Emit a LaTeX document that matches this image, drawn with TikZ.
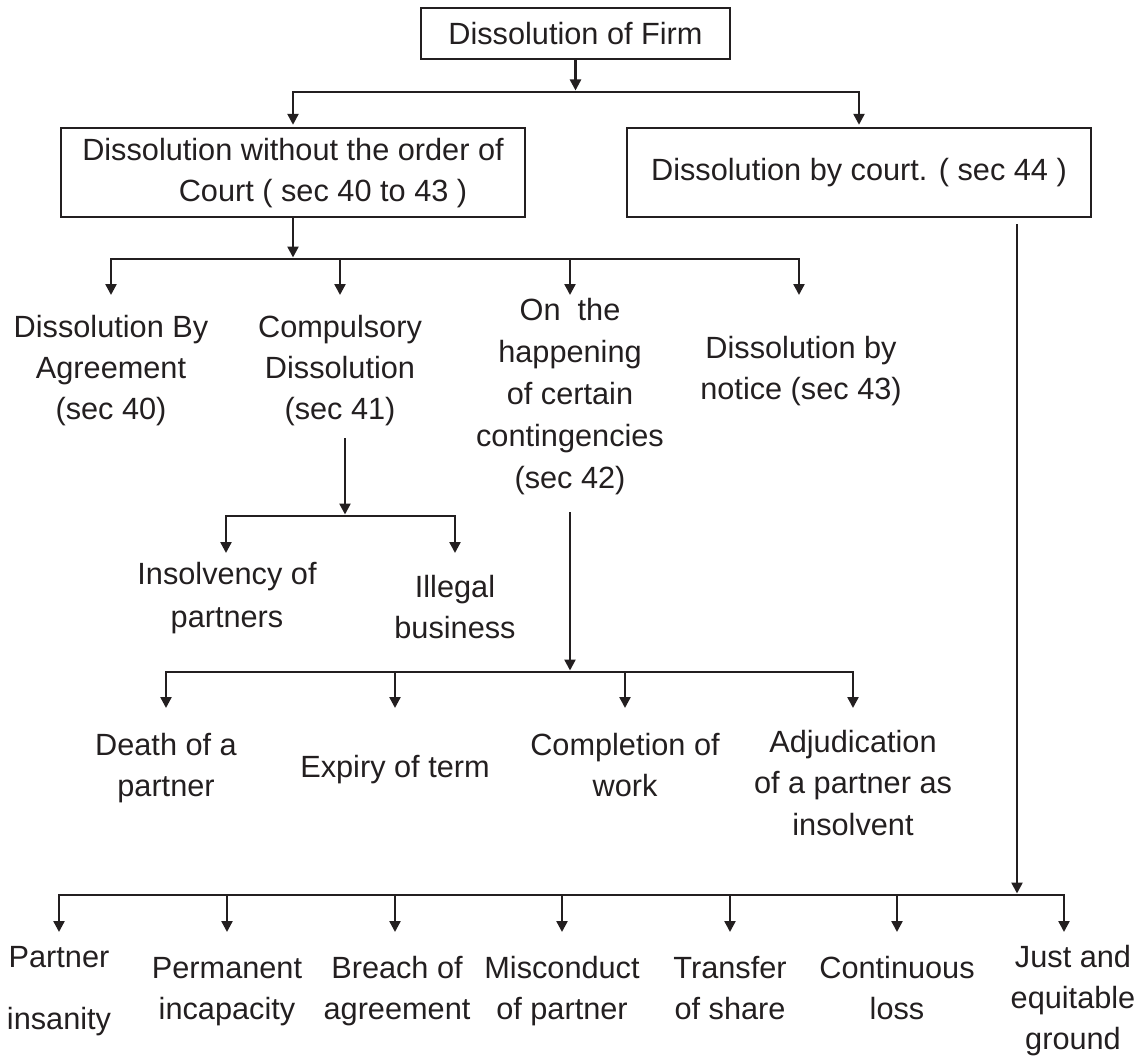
\documentclass[tikz,border=0pt]{standalone}
\usepackage{fontspec}
\setmainfont{Liberation Sans}
\usetikzlibrary{arrows.meta}
\definecolor{ink}{RGB}{35,31,32}
% invisible strut that fixes the first baseline below the top of a label
\newcommand\toplift[1]{\rule{0pt}{#1pt}}

\begin{document}
\begin{tikzpicture}[x=1pt,y=-1pt,
  every node/.style={font=\fontsize{30.7}{41}\selectfont, text=ink},
  link/.style={draw=ink, line width=2.4pt, line join=miter},
  arr/.style={link, -{Triangle[width=11pt,length=11pt]}},
  box/.style={draw=ink, line width=2.4pt, inner sep=0pt, align=center},
  lbl/.style={anchor=north, inner sep=0pt, align=center}]

\useasboundingbox (0,0) rectangle (1146,1057);

% ---- boxes ----
\node[box, minimum width=309pt, minimum height=51pt] (firm) at (575.5,33.5) {Dissolution of Firm};
\node[box, minimum width=464pt, minimum height=89pt] (woc) at (293,172.5)
  {\strut Dissolution without the order of\\\hspace*{60pt}Court ( sec 40 to 43 )\strut};
\node[box, minimum width=464pt, minimum height=89pt] (court) at (859,172.5)
  {Dissolution by court. ( sec 44 )};

% ---- first level under the order-free dissolution ----
\node[lbl] (agree)  at (111,295) {\toplift{42}Dissolution By\\Agreement\\(sec 40)};
\node[lbl] (compul) at (340,295) {\toplift{42}Compulsory\\Dissolution\\(sec 41)};
\node[lbl] (happen) at (570,295) {\toplift{25}On~~the\\[1pt]happening\\[1pt]of certain\\[1pt]contingencies\\[1pt](sec 42)};
\node[lbl] (notice) at (801,295) {\toplift{63}Dissolution by\\notice (sec 43)};

% ---- compulsory dissolution ----
\node[lbl] (insolv)  at (227,553) {\toplift{31}Insolvency of\\[2pt]partners};
\node[lbl] (illegal) at (455,553) {\toplift{44}Illegal\\business};

% ---- contingencies ----
\node[lbl] (death)   at (166,708) {\toplift{47}Death of a\\partner};
\node[lbl] (expiry)  at (395,708) {\toplift{69}Expiry of term};
\node[lbl] (complet) at (625,708) {\toplift{47}Completion of\\work};
\node[lbl] (adjud)   at (853,708) {\toplift{44}Adjudication\\of a partner as\\[1pt]insolvent};

% ---- grounds for dissolution by court ----
\node[lbl] (partner)  at (59,932)   {\toplift{35}Partner\\[21pt]insanity};
\node[lbl] (perm)     at (227,932)  {\toplift{46}Permanent\\incapacity};
\node[lbl] (breach)   at (397,932)  {\toplift{46}Breach of\\agreement};
\node[lbl] (miscon)   at (562,932)  {\toplift{46}Misconduct\\of partner};
\node[lbl] (transfer) at (730,932)  {\toplift{46}Transfer\\of share};
\node[lbl] (contin)   at (897,932)  {\toplift{46}Continuous\\loss};
\node[lbl] (just)     at (1073,932) {\toplift{35}Just and\\equitable\\ground};

% ---- junction points ----
\coordinate (h0) at (575.5,92);
\coordinate (h0l) at (293,92);
\coordinate (h0r) at (859,92);

\coordinate (h1) at (294,259);
\coordinate (a1) at (111,259);
\coordinate (a2) at (340,259);
\coordinate (a3) at (570,259);
\coordinate (a4) at (799,259);

\coordinate (k41) at (345,516);
\coordinate (b1) at (226,516);
\coordinate (b2) at (455,516);

\coordinate (k42) at (570,672);
\coordinate (c1) at (166,672);
\coordinate (c2) at (395,672);
\coordinate (c3) at (625,672);
\coordinate (c4) at (853,672);

\coordinate (kc) at (1017,895);
\coordinate (d1) at (59,895);
\coordinate (d2) at (227,895);
\coordinate (d3) at (395,895);
\coordinate (d4) at (562,895);
\coordinate (d5) at (730,895);
\coordinate (d6) at (897,895);
\coordinate (d7) at (1064,895);

% ---- connectors ----
\draw[arr, shorten >=1.5pt] (firm) -- (firm.south |- h0);
\draw[arr] (h0) -- (h0l) -- ([yshift=2pt]woc.north);
\draw[arr] (h0) -- (h0r) -- ([yshift=2pt]court.north);

\draw[arr, shorten >=1.5pt] (woc) -- (woc.south |- h1);
\draw[arr] (a3) -- (a1) -- (a1 |- agree.north);
\draw[arr] (a2) -- (a2 |- compul.north);
\draw[arr] (a3) -- (a3 |- happen.north);
\draw[arr] (a2) -- (a4) -- (a4 |- notice.north);

\draw[arr, shorten >=1.5pt] (compul.south -| k41) ++(0,12.5) -- (k41);
\draw[arr] (k41) -- (b1) -- (b1 |- insolv.north);
\draw[arr] (k41) -- (b2) -- (b2 |- illegal.north);

\draw[arr, shorten >=1.5pt] (happen.south -| k42) ++(0,17.5) -- (k42);
\draw[arr] (k42) -- (c1) -- (c1 |- death.north);
\draw[arr] (c2) -- (c2 |- expiry.north);
\draw[arr] (c3) -- (c3 |- complet.north);
\draw[arr] (k42) -- (c4) -- (c4 |- adjud.north);

\draw[arr, shorten >=1.5pt] (court.south -| kc) ++(0,6) -- (kc);
\draw[arr] (kc) -- (d1) -- (d1 |- partner.north);
\draw[arr] (d2) -- (d2 |- perm.north);
\draw[arr] (d3) -- (d3 |- breach.north);
\draw[arr] (d4) -- (d4 |- miscon.north);
\draw[arr] (d5) -- (d5 |- transfer.north);
\draw[arr] (d6) -- (d6 |- contin.north);
\draw[arr] (kc) -- (d7) -- (d7 |- just.north);
\end{tikzpicture}
\end{document}
